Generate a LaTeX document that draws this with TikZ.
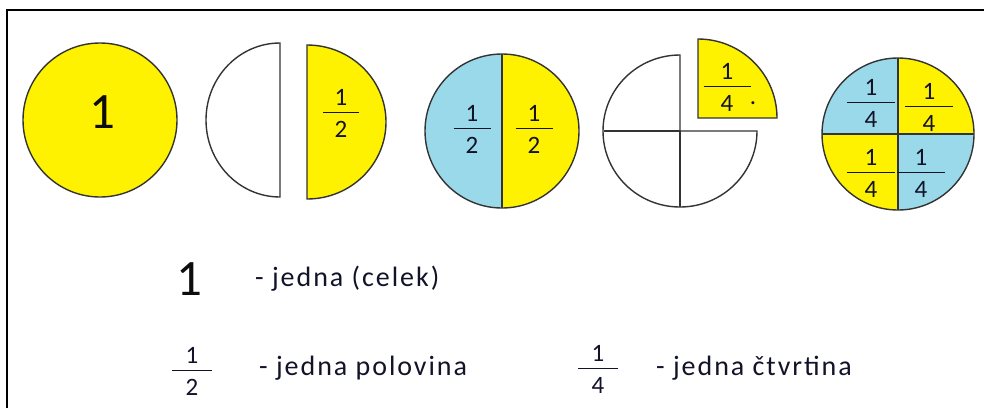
\documentclass[tikz,border=0pt]{standalone}
\usepackage{fontspec}
\setmainfont{Carlito}
\newfontfamily\legfont[LetterSpace=7]{Carlito}
\definecolor{pyel}{RGB}{255,242,0}
\definecolor{pblue}{RGB}{153,217,234}
\definecolor{txt}{RGB}{18,18,40}
\newcommand\vfrac[3][36pt]{\vbox{\hbox to #1{\hfil #2\hfil}\kern6pt\hrule height 1.4pt\kern8pt\hbox to #1{\hfil #3\hfil}}}
\begin{document}
\begin{tikzpicture}[x=1pt,y=-1pt,
  outl/.style={draw=black!80, line width=1.4pt},
  fr/.style={font=\fontsize{25}{28}\selectfont, text=txt, inner sep=0pt},
  big/.style={font=\fontsize{51}{54}\selectfont, text=black!95, inner sep=0pt},
  leg/.style={font=\legfont\fontsize{28}{32}\selectfont, text=txt, inner sep=0pt, anchor=base west}]
\useasboundingbox (0,0) rectangle (984,408);
% frame
\draw[line width=2pt] (7,408) -- (7,10) -- (984,10);
% circle 1
\draw[outl, fill=pyel] (100,120) circle (77);
\node[big, anchor=base] (one) at (102,128) {1};
% halves
\draw[outl, fill=white] (280,43) arc[start angle=-90, end angle=-270, x radius=74, y radius=77] -- cycle;
\draw[outl, fill=pyel] (307,45) arc[start angle=-90, end angle=90, x radius=79, y radius=77] -- cycle;
\node[fr] (h2) at (341,113.5) {\vfrac{1}{2}};
% circle 3
\fill[pblue] (502,54) arc[start angle=-90, end angle=-270, radius=77] -- cycle;
\fill[pyel] (502,54) arc[start angle=-90, end angle=90, radius=77] -- cycle;
\draw[outl] (502,131) circle (77);
\draw[outl] (502,54) -- (502,208);
\node[fr] (c3l) at (472,129.5) {\vfrac[37pt]{1}{2}};
\node[fr] (c3r) at (534,129.5) {\vfrac[37pt]{1}{2}};
% circle 4 (three quarters)
\draw[outl, fill=white] (680,131) -- (757,131) arc[start angle=0, end angle=270, x radius=77, y radius=76] -- cycle;
\draw[outl] (604,131) -- (680,131);
\draw[outl] (680,131) -- (680,207);
% displaced quarter
\draw[outl, fill=pyel] (698,118) -- (777,118) arc[start angle=0, end angle=-90, radius=79] -- cycle;
\node[fr] (q4) at (727,87.5) {\vfrac[47pt]{1}{4}};
\node[fr, anchor=base] (dot) at (753,104) {.};
% circle 5
\fill[pblue] (898,134) -- (822,134) arc[start angle=180, end angle=270, radius=76] -- cycle;
\fill[pyel] (898,134) -- (898,58) arc[start angle=270, end angle=360, radius=76] -- cycle;
\fill[pyel] (898,134) -- (898,210) arc[start angle=90, end angle=180, radius=76] -- cycle;
\fill[pblue] (898,134) -- (974,134) arc[start angle=0, end angle=90, radius=76] -- cycle;
\draw[outl] (898,134) circle (76);
\draw[outl] (898,58) -- (898,210);
\draw[outl] (822,134) -- (974,134);
\node[fr] (q1) at (871,103.5) {\vfrac[48pt]{1}{4}};
\node[fr] (q2) at (929,107.5) {\vfrac[48pt]{1}{4}};
\node[fr] (q3) at (871,173.5) {\vfrac[48pt]{1}{4}};
\node[fr] (q4b) at (921,173.5) {\vfrac[48pt]{1}{4}};
% legend
\node[big, anchor=base] (l1) at (189,295) {1};
\node[leg] (t1) at (255,286) {- jedna (celek)};
\node[fr] (l2) at (192,371.5) {\vfrac[40pt]{1}{2}};
\node[leg] (t2) at (259,375) {- jedna polovina};
\node[fr] (l4) at (598,369.5) {\vfrac[40pt]{1}{4}};
\node[leg] (t4) at (656,375) {- jedna čtvrtina};
\end{tikzpicture}
\end{document}
